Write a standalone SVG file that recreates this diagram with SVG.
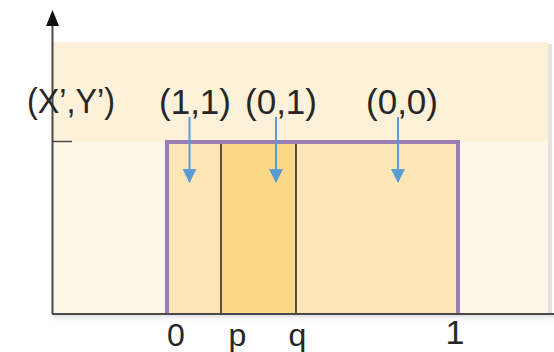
<svg xmlns="http://www.w3.org/2000/svg" width="554" height="352" viewBox="0 0 554 352">
<defs>
<style>
.lbl{font-family:"Liberation Sans",Arial,sans-serif;fill:#262626;text-anchor:middle}
.top{font-size:35px}
.bot{font-size:32px}
.blue{stroke:#5b9bd5;stroke-width:2;fill:none}
.div{stroke:#4a3f30;stroke-width:1.8}
</style>
<marker id="bh" viewBox="0 0 14 14" refX="13" refY="7" markerWidth="14" markerHeight="14" markerUnits="userSpaceOnUse" orient="auto">
<path d="M0,0 L14,7 L0,14 Z" fill="#5b9bd5"/>
</marker>
<linearGradient id="sh" x1="0" y1="0" x2="0" y2="1">
<stop offset="0" stop-color="#d8d8dc"/>
<stop offset="1" stop-color="#ffffff" stop-opacity="0"/>
</linearGradient>
</defs>
<rect width="554" height="352" fill="#ffffff"/>
<g id="background">
<rect x="53" y="314" width="501" height="9" fill="url(#sh)"/>
<rect x="548" y="44" width="4" height="270" fill="#e6e3e0"/>
<rect x="53" y="42" width="495" height="100" fill="#fdf1d9"/>
<rect x="53" y="142" width="495" height="172" fill="#fef6e7"/>
</g>
<g id="regions">
<rect id="r11" x="167" y="142" width="54" height="172" fill="#fde5b6"/>
<rect id="r01" x="221" y="142" width="75" height="172" fill="#fcd987"/>
<rect id="r00" x="296" y="142" width="162" height="172" fill="#fde6b5"/>
<line class="div" x1="221" y1="143" x2="221" y2="314"/>
<line class="div" x1="296" y1="143" x2="296" y2="314"/>
<path d="M167,314 V142 H458 V314" fill="none" stroke="#9a7db3" stroke-width="4"/>
</g>
<g id="axes">
<line x1="52.5" y1="22" x2="52.5" y2="314" stroke="#4a4a4a" stroke-width="2"/>
<path d="M52.5,10 L59,26 L46,26 Z" fill="#111"/>
<line x1="52" y1="314" x2="554" y2="314" stroke="#4a4a4a" stroke-width="2"/>
<line x1="52" y1="141.5" x2="72" y2="141.5" stroke="#4a4a4a" stroke-width="1.5"/>
</g>
<g id="connectors">
<line class="blue" x1="189.5" y1="117" x2="189.5" y2="182" marker-end="url(#bh)"/>
<line class="blue" x1="276" y1="117" x2="276" y2="182" marker-end="url(#bh)"/>
<line class="blue" x1="398" y1="117" x2="398" y2="182" marker-end="url(#bh)"/>
</g>
<g id="labels">
<text class="lbl top" x="71" y="113" textLength="88" lengthAdjust="spacingAndGlyphs">(X’,Y’)</text>
<text class="lbl top" x="195" y="114">(1,1)</text>
<text class="lbl top" x="281" y="114">(0,1)</text>
<text class="lbl top" x="402" y="114">(0,0)</text>
<text class="lbl bot" x="176" y="346">0</text>
<text class="lbl bot" x="237.5" y="346">p</text>
<text class="lbl bot" x="297.5" y="346">q</text>
<text class="lbl bot" style="font-size:34px" x="455" y="344">1</text>
</g>
</svg>
